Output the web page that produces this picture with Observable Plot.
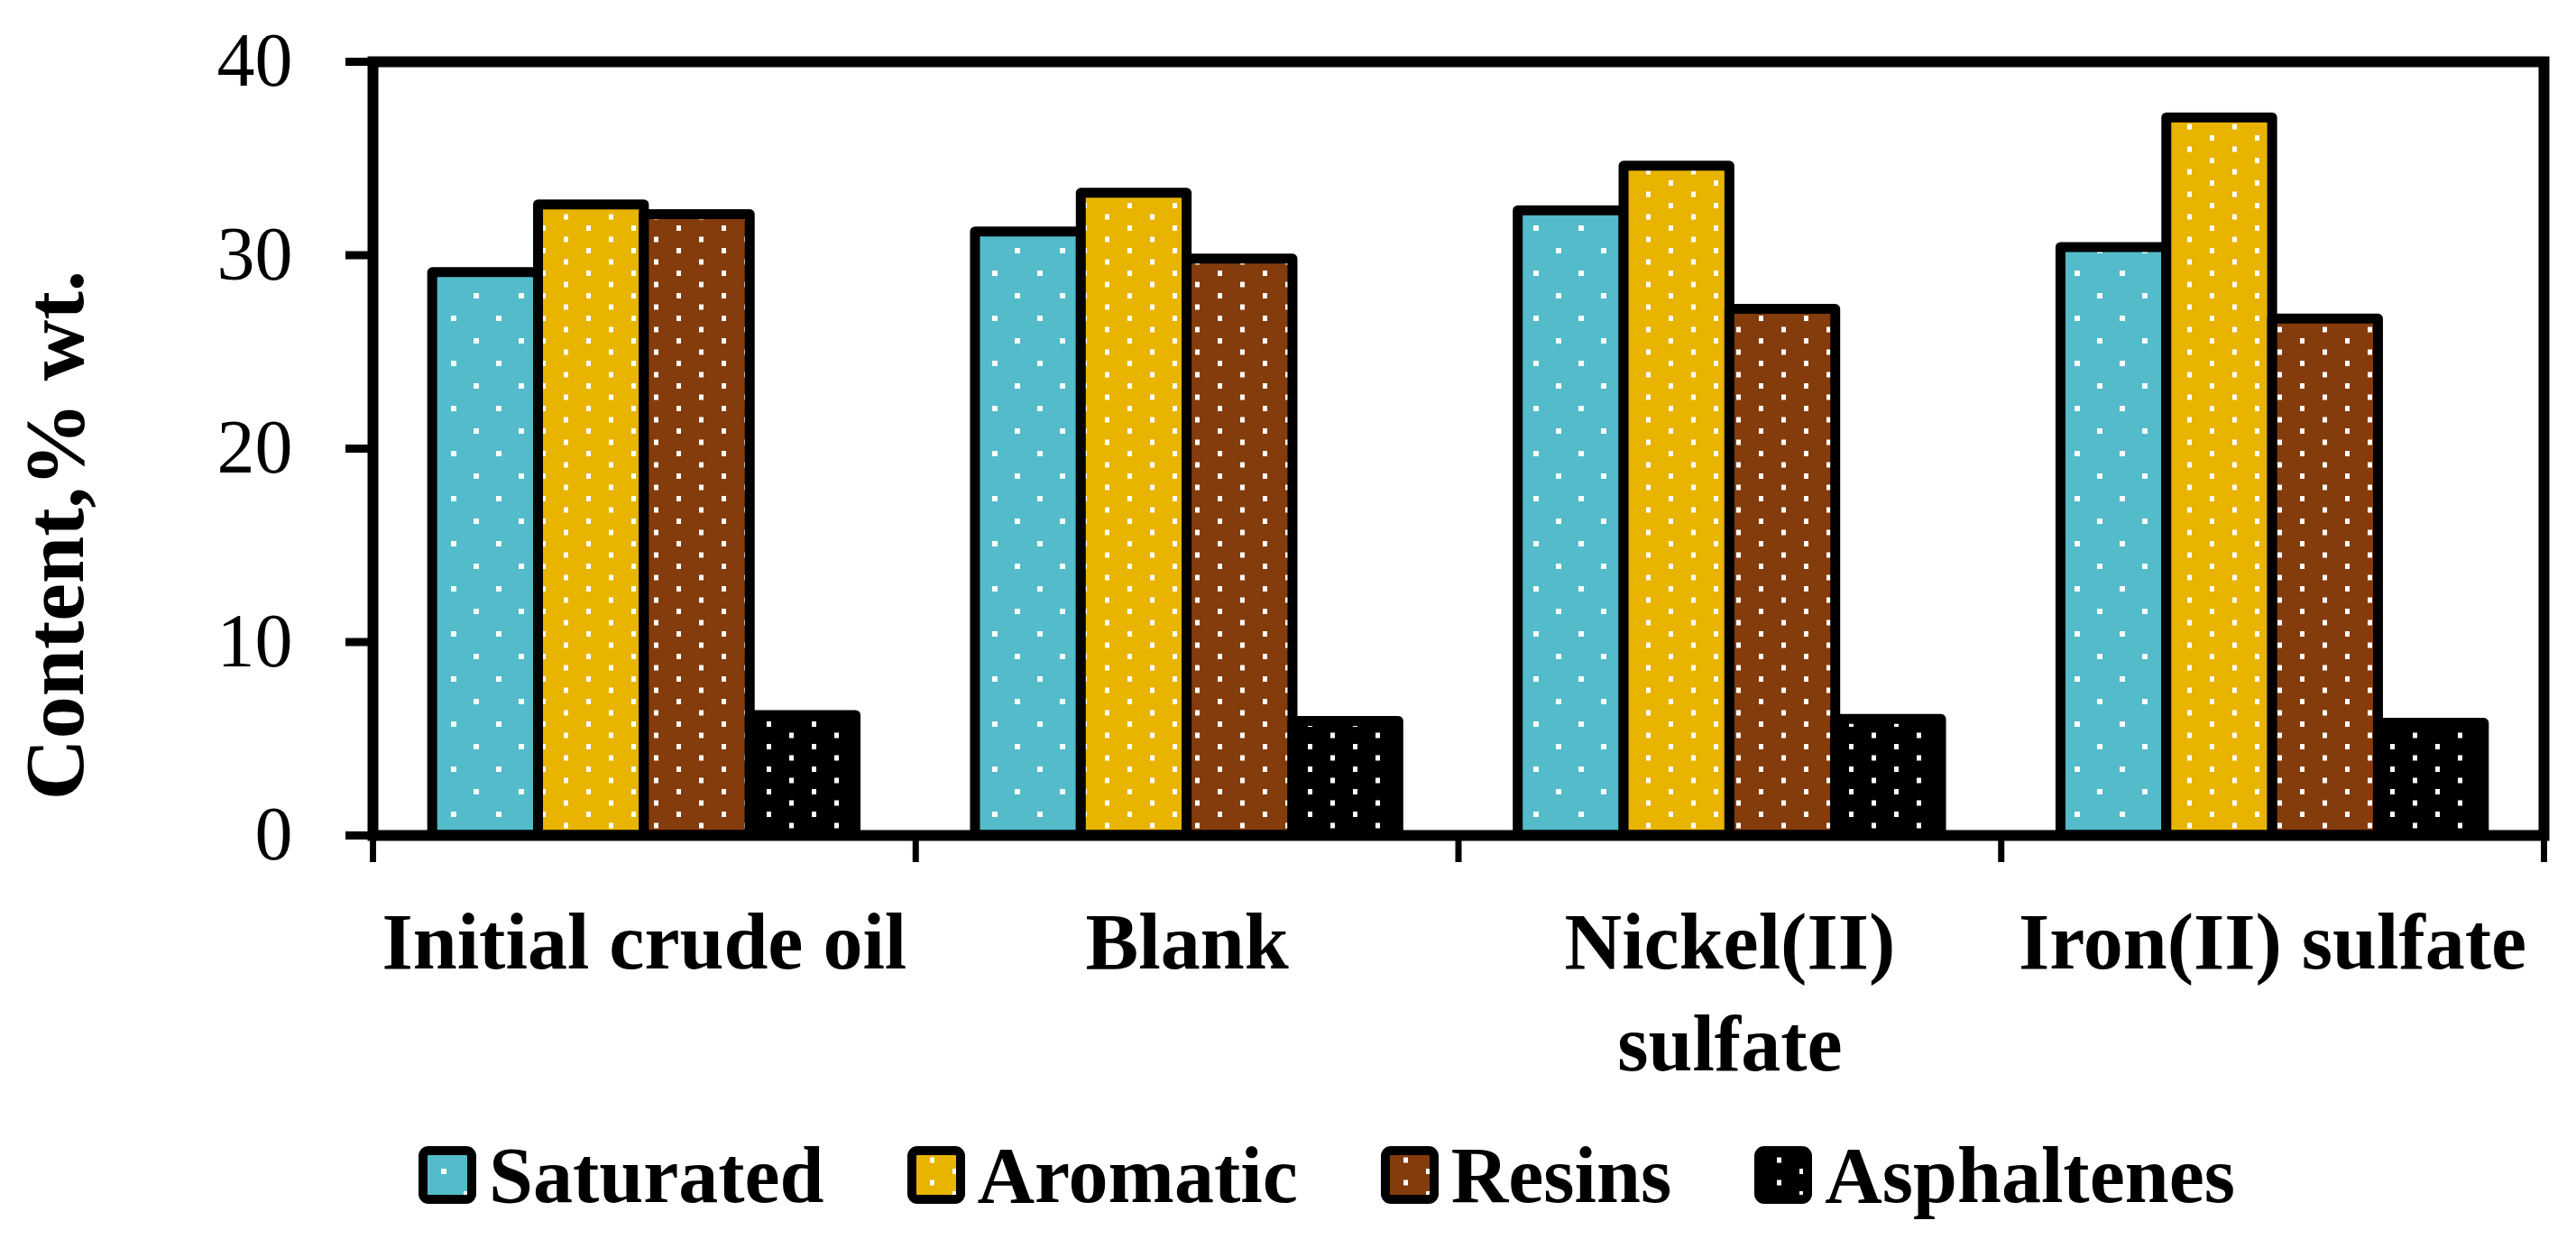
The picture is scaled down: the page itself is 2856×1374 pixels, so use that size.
<!DOCTYPE html>
<html>
<head>
<meta charset="utf-8">
<script src="https://cdn.jsdelivr.net/npm/d3@7"></script>
<script src="https://cdn.jsdelivr.net/npm/@observablehq/plot@0.6"></script>
<style>
  html, body { margin: 0; padding: 0; background: white; }
  #chart svg { display: block; }
  #legend {
    height: 142px;
    display: flex;
    align-items: center;
    padding-left: 464px;
    font-family: "Liberation Serif", serif;
    font-weight: bold;
    font-size: 88px;
    color: black;
  }
  #legend .item { display: flex; align-items: center; margin-right: 92px; }
  #legend svg { margin-right: 14px; }
</style>
</head>
<body>
<svg width="0" height="0" style="position:absolute">
  <defs>
    <pattern id="pat-sat" patternUnits="userSpaceOnUse" width="50" height="50">
      <rect width="50" height="50" fill="#53bbc9"></rect>
      <rect x="0" y="0" width="6" height="6" fill="white"></rect>
      <rect x="25" y="25" width="6" height="6" fill="white"></rect>
    </pattern>
    <pattern id="pat-aro" patternUnits="userSpaceOnUse" width="50" height="25">
      <rect width="50" height="25" fill="#e8b400"></rect>
      <rect x="0" y="0" width="5" height="6" fill="white"></rect>
      <rect x="25" y="12.5" width="5" height="6" fill="white"></rect>
    </pattern>
    <pattern id="pat-res" patternUnits="userSpaceOnUse" width="50" height="25">
      <rect width="50" height="25" fill="#843c0c"></rect>
      <rect x="0" y="0" width="5" height="6" fill="white"></rect>
      <rect x="25" y="12.5" width="5" height="6" fill="white"></rect>
    </pattern>
    <pattern id="pat-asp" patternUnits="userSpaceOnUse" width="50" height="25">
      <rect width="50" height="25" fill="#000000"></rect>
      <rect x="0" y="0" width="5" height="6" fill="white"></rect>
      <rect x="25" y="12.5" width="5" height="6" fill="white"></rect>
    </pattern>
  </defs>
</svg>
<div id="chart"></div>
<div id="legend"></div>
<script>
const categories = ["Initial crude oil", "Blank", "Nickel(II)\nsulfate", "Iron(II) sulfate"];
const series = ["Saturated", "Aromatic", "Resins", "Asphaltenes"];
const saturated = [29.1, 31.2, 32.3, 30.4];
const aromatic = [32.6, 33.2, 34.6, 37.1];
const resins = [32.1, 29.8, 27.2, 26.7];
const asphaltenes = [6.2, 5.9, 6.0, 5.8];
const yTicks = [0, 10, 20, 30, 40];

const fills = {
  Saturated: "url(#pat-sat)",
  Aromatic: "url(#pat-aro)",
  Resins: "url(#pat-res)",
  Asphaltenes: "url(#pat-asp)"
};

// group padding and bar width in category units
const PAD = 0.11;
const BAR = (1 - 2 * PAD) / series.length;

const valuesBySeries = [saturated, aromatic, resins, asphaltenes];
const rows = [];
categories.forEach((c, i) => {
  series.forEach((s, k) => {
    rows.push({
      category: c,
      series: s,
      value: valuesBySeries[k][i],
      x1: i + PAD + k * BAR,
      x2: i + PAD + (k + 1) * BAR
    });
  });
});

const chart = Plot.plot({
  width: 2856,
  height: 1232,
  marginLeft: 413,
  marginRight: 36,
  marginTop: 68,
  marginBottom: 306,
  style: {
    background: "white",
    color: "black",
    fontFamily: "'Liberation Serif', serif",
    fontSize: "84px"
  },
  x: { domain: [0, categories.length], label: null },
  y: { domain: [0, 40], label: null },
  marks: [
    Plot.rectY(rows, {
      x1: "x1", x2: "x2", y: "value",
      fill: d => fills[d.series],
      stroke: "black",
      strokeWidth: 11,
      strokeLinejoin: "round"
    }),
    Plot.frame({ stroke: "black", strokeWidth: 12 }),
    Plot.axisY({
      ticks: yTicks,
      tickSize: 30,
      tickPadding: 59,
      strokeWidth: 9,
      fontSize: 84,
      label: null
    }),
    Plot.axisX({
      ticks: d3.range(categories.length + 1),
      tickSize: 30,
      strokeWidth: 7,
      tickFormat: () => "",
      label: null
    }),
    Plot.axisX({
      ticks: categories.map((_, i) => i + 0.5),
      tickSize: 0,
      tickPadding: 68,
      tickFormat: d => categories[Math.floor(d)],
      fontSize: 88,
      fontWeight: "bold",
      lineHeight: 1.28,
      label: null
    }),
    Plot.text(["Content,% wt."], {
      frameAnchor: "left",
      text: d => d,
      rotate: -90,
      dx: 91 - 413,
      dy: 593 - 497,
      lineAnchor: "bottom",
      textAnchor: "middle",
      fontSize: 94,
      fontWeight: "bold"
    })
  ]
});
document.getElementById("chart").appendChild(chart);

// legend with the same patterned swatches
const legend = document.getElementById("legend");
for (const s of series) {
  const item = document.createElement("div");
  item.className = "item";
  item.innerHTML =
    `<svg width="64" height="64"><rect x="5" y="5" width="54" height="54" rx="6" fill="${fills[s]}" stroke="black" stroke-width="10"></rect></svg><span>${s}</span>`;
  legend.appendChild(item);
}
</script>
</body>
</html>
